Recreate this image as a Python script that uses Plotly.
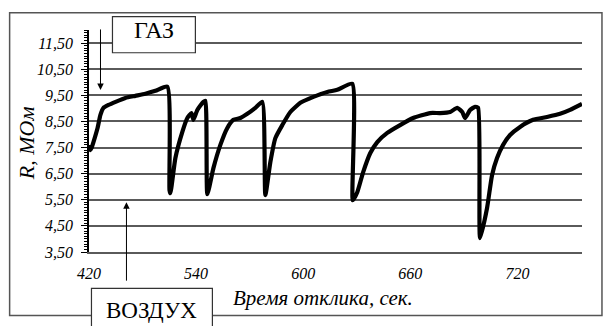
import plotly.graph_objects as go

# Response time (s) and resistance (MOhm)
time_s = [480.3, 480.8, 481.4, 482.5, 484.8, 486.4, 488.1, 490.9, 494.9, 500.4, 506.0, 511.6, 517.2, 523.9,
          525.1, 525.6, 528.4, 532.3, 535.1, 537.4, 538.5, 540.7, 544.1, 545.2,
          546.3, 549.7, 553.6, 557.5, 560.9, 564.8, 568.7, 573.2, 577.1,
          578.8, 581.6, 584.4, 588.3, 592.8, 598.4, 605.7, 613.5, 619.1, 627.5,
          627.8, 630.3, 633.6, 637.6, 641.5, 647.1, 654.3, 661.6, 671.1, 676.7, 682.3, 686.3, 689.1, 690.7,
          693.5, 696.3, 698.0,
          699.1, 703.0, 705.8, 708.6, 712.0, 715.9, 721.5, 728.8, 736.6, 743.9, 749.5, 756.2]
resistance = [7.60, 7.40, 7.48, 7.71, 8.25, 8.75, 9.02, 9.13, 9.25, 9.40, 9.48, 9.56, 9.67, 9.83,
              5.87, 5.75, 7.10, 8.10, 8.63, 8.82, 8.56, 8.94, 9.25, 9.29,
              5.71, 6.71, 7.60, 8.25, 8.56, 8.63, 8.79, 9.02, 9.25,
              5.68, 6.94, 7.86, 8.36, 8.86, 9.21, 9.44, 9.63, 9.71, 9.94,
              5.48, 5.79, 6.56, 7.29, 7.71, 8.06, 8.36, 8.63, 8.82, 8.82, 8.86, 9.02, 8.86, 8.63,
              8.94, 9.06, 9.02,
              4.03, 5.18, 6.44, 7.10, 7.60, 7.98, 8.29, 8.56, 8.67, 8.79, 8.94, 9.17]

x_tickvals = [480, 540, 600, 660, 720]
x_ticktext = ["420", "540", "600", "660", "720"]

y_title = "R, МОм"
x_title = "Время отклика, сек."
gas_label = "ГАЗ"
air_label = "ВОЗДУХ"

SERIF = "Liberation Serif"

fig = go.Figure()
fig.add_trace(go.Scatter(x=time_s, y=resistance, mode="lines",
                         line=dict(color="black", width=4.2, shape="spline", smoothing=0.5),
                         showlegend=False, hoverinfo="skip"))

fig.update_layout(
    width=603, height=326, autosize=False,
    margin=dict(l=88.5, r=21, t=30.3, b=74.3, autoexpand=False),
    plot_bgcolor="white", paper_bgcolor="white",
    separators=", ",
    font=dict(family=SERIF),
    xaxis=dict(range=[480, 756.2], tickvals=x_tickvals, ticktext=x_ticktext, automargin=False,
               showgrid=False, zeroline=False, showline=True, linecolor="#5a5a5a", linewidth=1.5,
               ticks="outside", ticklen=6, tickcolor="rgba(0,0,0,0)",
               tickfont=dict(family=SERIF, size=16, color="black", style="italic")),
    yaxis=dict(range=[3.5, 12.0], tick0=3.5, dtick=1, tickformat=".2f", automargin=False,
               showgrid=True, gridcolor="#5a5a5a", gridwidth=1.5, zeroline=False,
               showline=True, linecolor="black", linewidth=1.5,
               ticks="outside", ticklen=6, tickcolor="black", tickwidth=1,
               ticklabelstandoff=5,
               minor=dict(ticks="outside", ticklen=3, tick0=3.5, dtick=0.1, tickcolor="black", showgrid=False),
               tickfont=dict(family=SERIF, size=16, color="black", style="italic")),
)

shapes = [
    # outer frame
    dict(type="rect", xref="paper", yref="paper", x0=-0.161, x1=1.0405, y0=-0.286, y1=1.078,
         line=dict(color="#555555", width=1.5), fillcolor="rgba(0,0,0,0)"),
    # gas box
    dict(type="rect", xref="paper", yref="paper", x0=0.0476, x1=0.2158, y0=0.8975, y1=1.060,
         line=dict(color="#333333", width=1.2), fillcolor="white"),
    # air box
    dict(type="rect", xref="paper", yref="paper", x0=0.005, x1=0.2503, y0=-0.40, y1=-0.164,
         line=dict(color="#333333", width=1.2), fillcolor="white"),
]
fig.update_layout(shapes=shapes)

annotations = [
    dict(text=gas_label, xref="paper", yref="paper", x=0.1317, y=0.9986, showarrow=False,
         xanchor="center", yanchor="middle", font=dict(family=SERIF, size=24, color="black")),
    dict(text=air_label, xref="paper", yref="paper", x=0.1264, y=-0.262, showarrow=False,
         xanchor="center", yanchor="middle", font=dict(family=SERIF, size=23, color="black")),
    dict(text=y_title, xref="paper", yref="paper", x=-0.1277, y=0.49, showarrow=False, textangle=-90,
         xanchor="center", yanchor="middle",
         font=dict(family=SERIF, size=22, color="black", style="italic")),
    dict(text=x_title, xref="paper", yref="paper", x=0.475, y=-0.209, showarrow=False,
         xanchor="center", yanchor="middle",
         font=dict(family=SERIF, size=21, color="black", style="italic")),
    # arrows
    dict(text="", xref="paper", yref="paper", x=0.0233, y=0.730, ax=0, ay=-62,
         showarrow=True, arrowhead=2, arrowsize=1.3, arrowwidth=1, arrowcolor="black"),
    dict(text="", xref="paper", yref="paper", x=0.076, y=0.2245, ax=0, ay=80,
         showarrow=True, arrowhead=2, arrowsize=1.3, arrowwidth=1, arrowcolor="black"),
]
fig.update_layout(annotations=annotations)

fig.write_html("out.html", config={"displayModeBar": False},
               post_script="document.body.style.margin='0';")
